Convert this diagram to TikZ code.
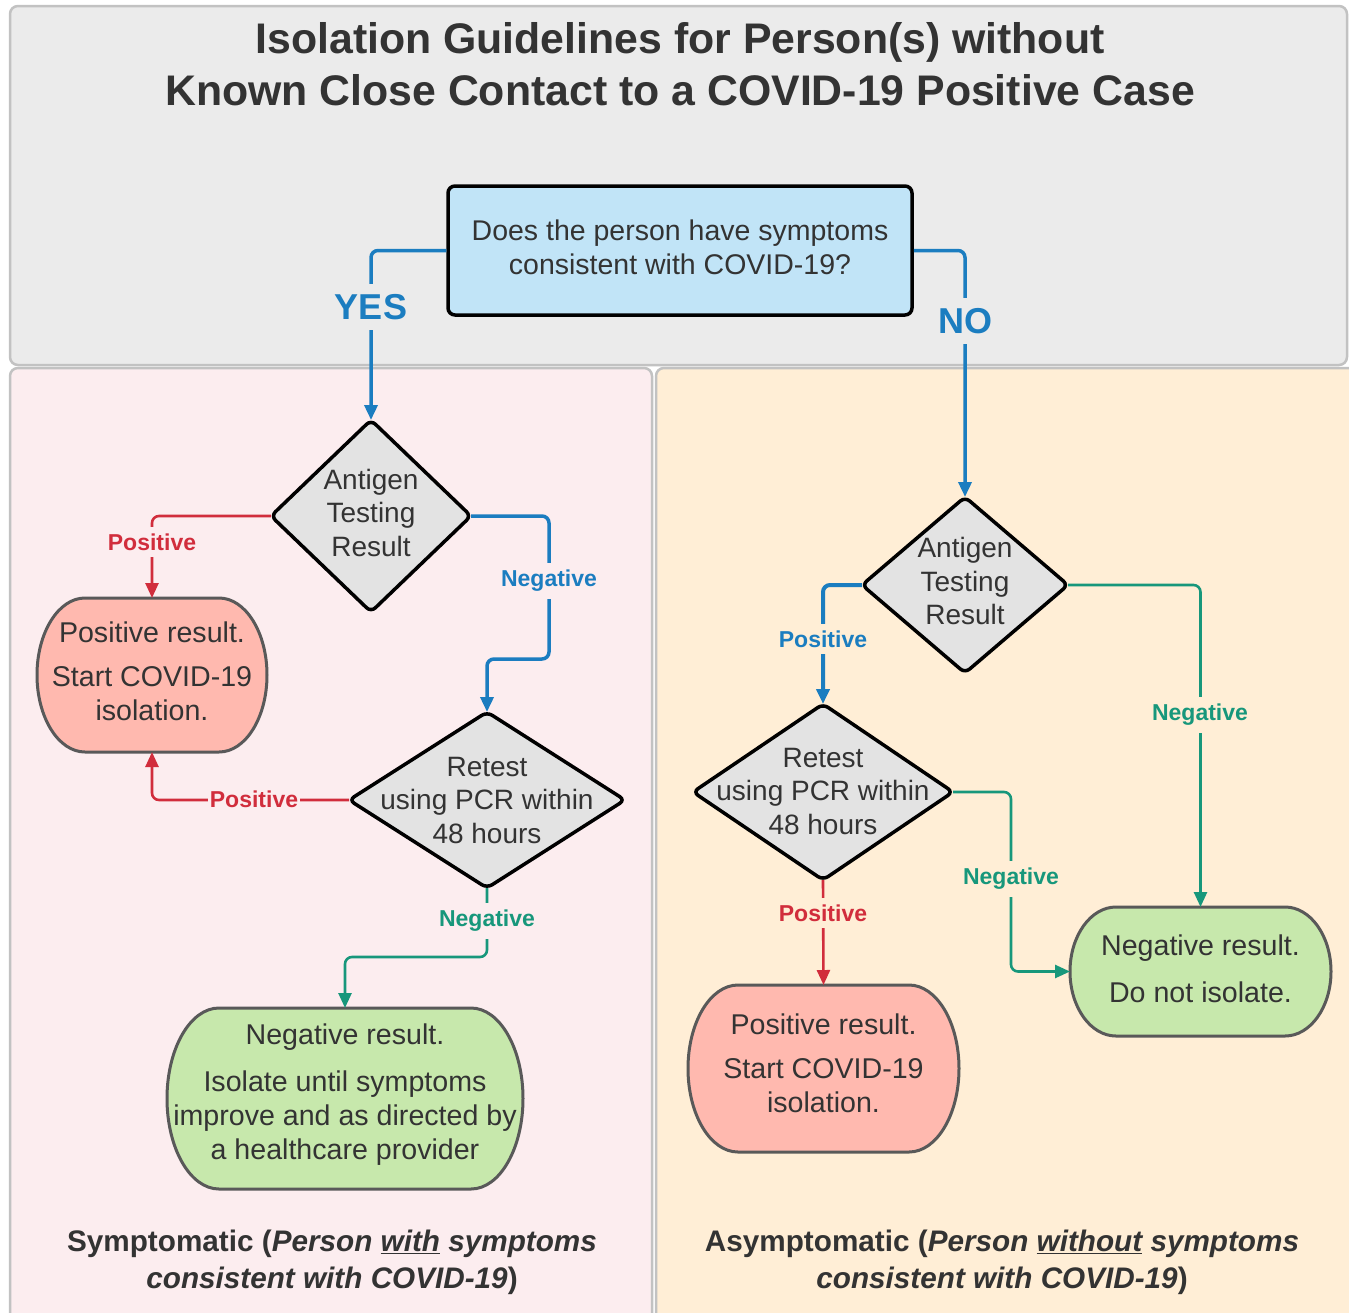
\documentclass[tikz,border=0pt]{standalone}
\usepackage{fontspec}
\setmainfont{Liberation Sans}
\usetikzlibrary{arrows.meta,shapes.geometric,calc}
\definecolor{panelgray}{HTML}{EBEBEB}
\definecolor{panelline}{HTML}{C2C2C2}
\definecolor{pinkbg}{HTML}{FCEDEF}
\definecolor{orangebg}{HTML}{FFEED6}
\definecolor{qblue}{HTML}{C1E4F7}
\definecolor{diagray}{HTML}{E3E3E3}
\definecolor{redbox}{HTML}{FFB9AF}
\definecolor{greenbox}{HTML}{C7E8AC}
\definecolor{termline}{HTML}{595959}
\definecolor{cblue}{HTML}{1B7DC0}
\definecolor{cred}{HTML}{D12D3C}
\definecolor{cgreen}{HTML}{17977B}
\definecolor{txt}{HTML}{333333}
\pgfdeclarelayer{bg}
\pgfdeclarelayer{mid}
\pgfsetlayers{bg,mid,main}
\newcommand\termbg[3]{%
  \begin{pgfonlayer}{mid}
  \path[draw=termline, line width=3pt, fill=#3]
    let \p1=(#1.north west), \p2=(#1.south east) in
    (\x1+#2pt,\y1) -- (\x2-#2pt,\y1)
    arc[start angle=90, end angle=-90, x radius=#2pt, y radius={(\y1-\y2)/2}]
    -- (\x1+#2pt,\y2)
    arc[start angle=270, end angle=90, x radius=#2pt, y radius={(\y1-\y2)/2}]
    -- cycle;
  \end{pgfonlayer}}
\begin{document}
\begin{tikzpicture}[x=1pt,y=1pt,
  panel/.style={draw=panelline, line width=2.5pt, rounded corners=8pt},
  titlestyle/.style={align=center, text=txt, font=\fontsize{42.8}{52}\selectfont\bfseries},
  qbox/.style={rectangle, draw=black, line width=3.5pt, fill=qblue, rounded corners=7pt,
     minimum width=464pt, minimum height=129pt, inner sep=0pt},
  qtext/.style={align=center, text=txt, font=\fontsize{28.5}{34}\selectfont},
  dia/.style={diamond, draw=black, line width=3.5pt, fill=diagray, rounded corners=6pt,
     inner sep=0pt, outer sep=0pt},
  dtext/.style={align=center, text=txt, font=\fontsize{28}{33.5}\selectfont},
  term/.style={rectangle, inner sep=0pt, outer sep=0pt},
  ttext/.style={align=center, text=txt, font=\fontsize{28.6}{34}\selectfont},
  conn/.style={rounded corners=7pt, -{Triangle[length=15pt,width=13pt]}},
  bconn/.style={conn, draw=cblue, line width=3.5pt},
  rconn/.style={conn, draw=cred, line width=2.6pt},
  gconn/.style={conn, draw=cgreen, line width=2.6pt},
  lbl/.style={font=\fontsize{23}{26}\selectfont\bfseries, inner xsep=2pt, inner ysep=7pt},
  bigl/.style={font=\fontsize{36}{40}\selectfont\bfseries, text=cblue, fill=panelgray, inner sep=10pt},
  caption/.style={align=center, text=txt, font=\fontsize{29.7}{37}\selectfont\bfseries}
]
\useasboundingbox (0,0) rectangle (1349,-1312);
% panels
\begin{pgfonlayer}{bg}
\fill[white] (0,0) rectangle (1349,-1312);
\draw[panel, fill=panelgray] (10,-6) rectangle (1347,-365);
\draw[panel, fill=pinkbg] (10,-368) rectangle (652,-1330);
\draw[panel, fill=orangebg] (656,-368) rectangle (1360,-1330);
\end{pgfonlayer}

\node[titlestyle] (title) at (680,-64) {Isolation Guidelines for Person(s) without\\Known Close Contact to a COVID-19 Positive Case};

\node[qbox, label={[qtext, yshift=3pt]center:Does the person have symptoms\\consistent with COVID-19?}] (q) at (680,-250.5) {};

% diamonds
\node[dia, minimum width=200pt, minimum height=192pt,
  label={[dtext, yshift=3.5pt]center:Antigen\\Testing\\Result}] (dA) at (371,-516) {};
\node[dia, minimum width=206pt, minimum height=176pt,
  label={[dtext, yshift=4pt]center:Antigen\\Testing\\Result}] (dB) at (965,-585) {};
\node[dia, minimum width=276pt, minimum height=176pt,
  label={[dtext]center:Retest\\using PCR within\\48 hours}] (dC) at (487,-800) {};
\node[dia, minimum width=260pt, minimum height=176pt,
  label={[dtext, yshift=1pt]center:Retest\\using PCR within\\48 hours}] (dD) at (823,-792) {};

% terminals
\node[term, minimum width=230pt, minimum height=154pt,
  label={[ttext, yshift=4pt]center:Positive result.\\[10pt]Start COVID-19\\isolation.}] (pL) at (152,-675) {};
\termbg{pL}{48}{redbox}
\node[term, minimum width=356pt, minimum height=181pt,
  label={[ttext, yshift=4pt]center:Negative result.\\[13pt]Isolate until symptoms\\improve and as directed by\\a healthcare provider}] (nL) at (345,-1098.5) {};
\termbg{nL}{52}{greenbox}
\node[term, minimum width=271pt, minimum height=167pt,
  label={[ttext, yshift=5pt]center:Positive result.\\[10pt]Start COVID-19\\isolation.}] (pR) at (823.5,-1068.5) {};
\termbg{pR}{50}{redbox}
\node[term, minimum width=261pt, minimum height=129pt,
  label={[ttext, yshift=2.5pt]center:Negative result.\\[13pt]Do not isolate.}] (nR) at (1200.5,-971.5) {};
\termbg{nR}{46}{greenbox}

% connectors
\coordinate (kA) at (549,-659);
\coordinate (kC) at (487,-957);
\coordinate (kD) at (1011,-900);
\draw[bconn] (q.west) -| (dA.north);
\draw[bconn] (q.east) -| (dB.north);
\draw[rconn] (dA.west) -| (pL.north);
\draw[bconn] (dA.east) -| (kA) -| (dC.north);
\draw[rconn] (dC.west) -| (pL.south);
\draw[gconn] (dC.south) -- (kC) -| (nL.north);
\draw[bconn, line width=4pt] (dB.west) -| (dD.north);
\draw[gconn] (dB.east) -| (nR.north);
\draw[gconn] (dD.east) -| (kD) |- (nR.west);
\draw[rconn] (dD.south) -- (pR.north);

% labels
\node[bigl] (yes) at (371,-307) {YES};
\node[bigl] (no) at (965,-321) {NO};
\node[lbl, text=cred, fill=pinkbg] (l1) at (152,-542) {Positive};
\node[lbl, text=cblue, fill=pinkbg] (l2) at (549,-581) {Negative};
\node[lbl, text=cred, fill=pinkbg, inner ysep=2pt] (l3) at (254,-799) {Positive};
\node[lbl, text=cgreen, fill=pinkbg] (l4) at (487,-921) {Negative};
\node[lbl, text=cblue, fill=orangebg] (l5) at (823,-639) {Positive};
\node[lbl, text=cgreen, fill=orangebg] (l6) at (1200,-715) {Negative};
\node[lbl, text=cgreen, fill=orangebg] (l7) at (1011,-879) {Negative};
\node[lbl, text=cred, fill=orangebg] (l8) at (823,-913) {Positive};

% captions
\node[caption] (capL) at (332,-1262) {Symptomatic (\textit{Person \underline{with} symptoms}\\\textit{consistent with COVID-19})};
\node[caption] (capR) at (1002,-1262) {Asymptomatic (\textit{Person \underline{without} symptoms}\\\textit{consistent with COVID-19})};
\end{tikzpicture}
\end{document}
